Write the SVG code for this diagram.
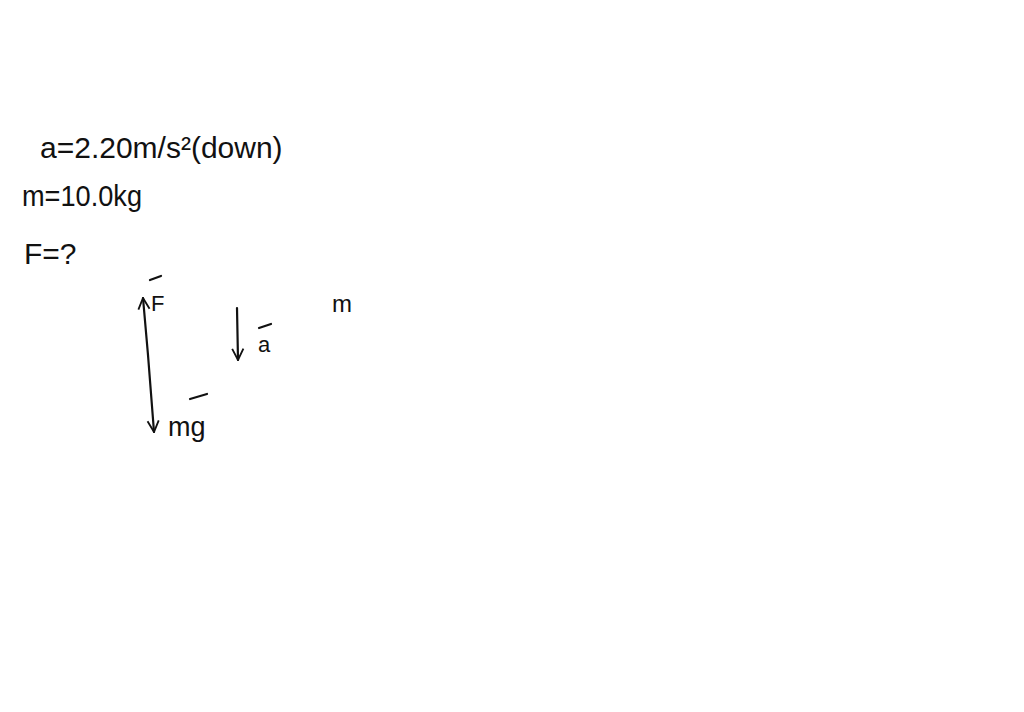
<svg xmlns="http://www.w3.org/2000/svg" width="1024" height="712" viewBox="0 0 1024 712">
<style>
.t{font-family:"Liberation Sans",Arial,sans-serif;fill:#111;}
.big{font-size:30px;}
.sm{font-size:22px;}
.ln{stroke:#111;stroke-width:2.2;fill:none;stroke-linecap:round;}
</style>
<defs>
<marker id="ah2" viewBox="0 0 10 10" refX="9" refY="5" markerWidth="14" markerHeight="14" orient="auto" markerUnits="userSpaceOnUse">
<path d="M1,1 L9,5 L1,9" fill="none" stroke="#111" stroke-width="1.3"/>
</marker>
</defs>
<rect width="1024" height="712" fill="#fff"/>
<g id="givens">
<text class="t big" x="40" y="158">a=2.20m/s²(down)</text>
<text class="t big" x="22" y="206" textLength="120" lengthAdjust="spacingAndGlyphs">m=10.0kg</text>
<text class="t big" x="24" y="264">F=?</text>
</g>
<g id="connectors">
<line class="ln" x1="148" y1="355" x2="143" y2="298" marker-end="url(#ah2)"/>
<line class="ln" x1="148" y1="355" x2="154" y2="432" marker-end="url(#ah2)"/>
<line class="ln" x1="237" y1="308" x2="238" y2="360" marker-end="url(#ah2)"/>
</g>
<g id="label-F">
<line class="ln" x1="150" y1="280" x2="161" y2="276"/>
<text class="t sm" x="151" y="311">F</text>
</g>
<g id="label-a">
<line class="ln" x1="259" y1="328" x2="271" y2="324"/>
<text class="t sm" x="258" y="352">a</text>
</g>
<g id="label-mg">
<line class="ln" x1="190" y1="399" x2="207" y2="394"/>
<text class="t" style="font-size:27px" x="168" y="436">mg</text>
</g>
<g id="label-m">
<text class="t" style="font-size:24px" x="332" y="312">m</text>
</g>
</svg>
